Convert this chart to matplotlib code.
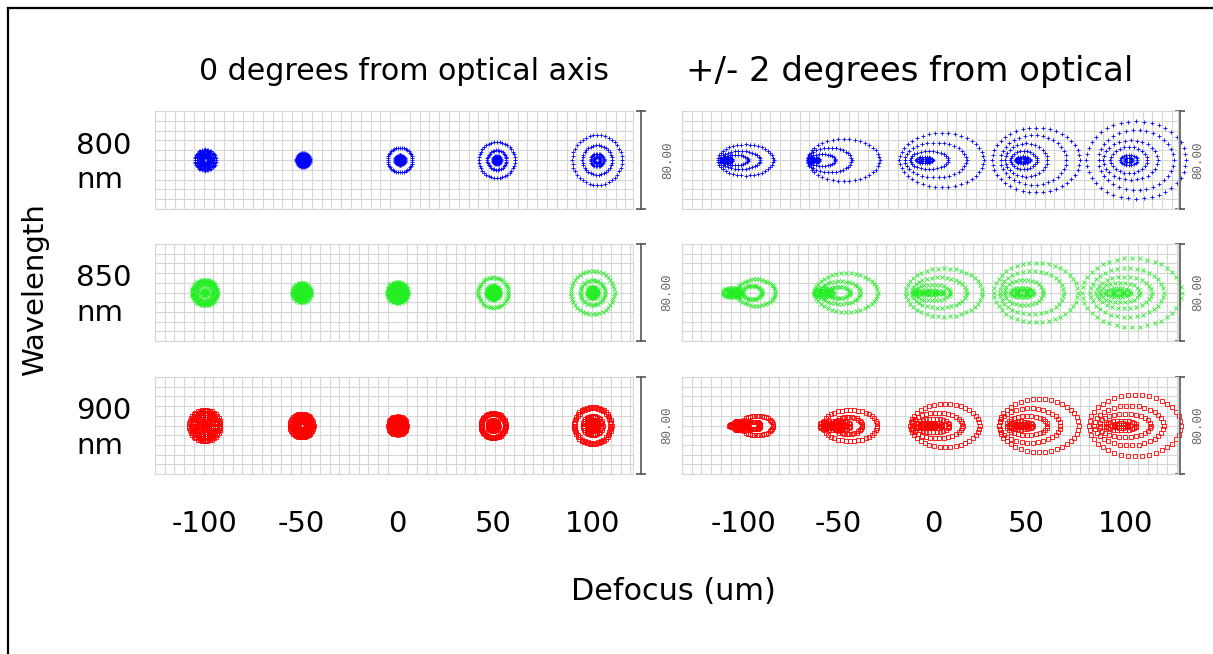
import numpy as np
import matplotlib
matplotlib.use('Agg')
from matplotlib import pyplot as plt
from matplotlib.lines import Line2D

DEFOCUS = [-100, -50, 0, 50, 100]
WAVELENGTHS = ['800\nnm', '850\nnm', '900\nnm']
COLUMN_TITLES = ['0 degrees from optical axis', '+/- 2 degrees from optical']
SCALE_LABEL = '80.00'

# spot centres along each panel (um from the left edge of the grid)
SPOT_X_ON = [41, 121, 200, 279, 361]
LABEL_X_OFF = [51, 129, 207, 284, 366]
SPOT_X_OFF = [52, 132, 212, 291, 376]

# points traced on each ring, outermost ring first
RING_POINTS = [40, 34, 28, 24, 20, 16, 12, 10, 8]

# on-axis spots: ring radii in um, one list per defocus
ON_800 = [
    [8.6, 7.0, 5.4, 3.8, 2.2],
    [5.7, 4.4, 3.0, 1.6],
    [10.2, 4.0, 2.8, 1.6],
    [14.7, 7.8, 3.3, 2.0],
    [20.4, 12.2, 5.3, 2.6],
]
ON_850 = [
    [10.6, 9.4, 8.2, 6.1, 2.4],
    [7.9, 6.4, 4.9, 3.4, 1.9],
    [8.6, 7.2, 5.8, 4.3, 2.8, 1.4],
    [12.5, 5.8, 4.3, 2.8, 1.3],
    [18.0, 10.2, 4.7, 2.5],
]
ON_900 = [
    [13.0, 11.6, 10.2, 8.6, 7.0, 5.4, 3.6, 1.8],
    [9.8, 8.6, 7.4, 6.0, 4.6, 3.4],
    [7.5, 6.3, 5.1, 3.9, 2.7, 1.5],
    [10.4, 9.6, 4.4, 3.4, 2.4, 1.4],
    [15.5, 14.5, 8.2, 7.2, 3.3, 2.3],
]

# 2 degree field spots: (centre offset, semi-axis x, semi-axis y) in um
OFF_800 = [
    [(0, 22.7, 12.7), (-4.5, 16.5, 7.3), (-8.6, 10.5, 4.1), (-15.5, 4.6, 2.4), (-15, 2, 1)],
    [(0, 29.5, 17.1), (-11.4, 18, 10.2), (-18, 11.3, 4.9), (-24, 4, 2), (-24, 2, 1)],
    [(0, 34.5, 22), (-4.9, 25.2, 14.3), (-10.2, 15.5, 7.3), (-14, 6.7, 2.4), (-14, 3, 1)],
    [(-2, 35.7, 26.5), (-4, 26.8, 20.4), (-10, 17.2, 13.5), (-12, 10.9, 7.3), (-13, 6, 3), (-13, 3, 1.5)],
    [(-5.3, 40.8, 31.8), (-5.3, 30.7, 24.5), (-9.8, 22.2, 16.3), (-11.3, 15.1, 10.6), (-11.3, 7, 4), (-11.3, 3, 2)],
]
OFF_850 = [
    [(9, 16, 11), (5.7, 8.2, 5.7), (-10.6, 7.7, 4), (-10, 4, 2.5), (-10, 2, 1)],
    [(3.3, 26, 16.3), (-1.6, 16.8, 9.4), (-2.5, 8.9, 4.9), (-15, 8.2, 3.5), (-15, 4, 1.5)],
    [(4, 31.5, 20), (0, 22.7, 12.7), (-5.7, 15.1, 6.5), (-8, 11.7, 2), (-8, 6, 1)],
    [(0.8, 34.5, 24.5), (-2.5, 26.5, 17.6), (-9, 16, 10.6), (-10.6, 9.7, 4), (-10.6, 5, 2)],
    [(-4.9, 41.2, 28.6), (-9, 30.3, 20.4), (-11.4, 23.1, 13), (-14.7, 16.5, 8.2), (-16.3, 10.5, 4), (-16.3, 5, 2)],
]
OFF_900 = [
    [(9.8, 13, 8.2), (7, 5.5, 3.3), (-5.7, 7.2, 1.6), (-5.7, 3.5, 4), (-5.7, 2, 2)],
    [(6.5, 22.2, 13), (4.9, 11.7, 7.3), (-5.7, 12.6, 4), (-5.7, 8.2, 2.5), (-5.7, 4, 1.2)],
    [(4.9, 28.5, 18), (-1.6, 21, 10.6), (-4.9, 13.4, 5.7), (-6.5, 9.3, 2.4), (-6.5, 4.6, 1.2)],
    [(3.3, 32.8, 22), (-4.1, 25.2, 14.3), (-6.5, 16.8, 8.2), (-11.4, 9.7, 3.3), (-11.4, 5, 1.5)],
    [(-2.4, 37.8, 25.3), (-7.3, 28.5, 16.3), (-10.6, 21, 9.8), (-13.9, 12.6, 4.1), (-13.9, 6, 2)],
]

STYLES = [
    dict(color='#0000ff', marker='+', ms=3.0, mew=0.6),
    dict(color='#22ee22', marker='x', ms=2.4, mew=0.6),
    dict(color='#ff0000', marker='s', ms=2.4, mew=0.6, mfc='none'),
]

W, H = 1213, 654
fig = plt.figure(figsize=(W / 100, H / 100), dpi=100)


def box(x0, y0, x1, y1):
    return [x0 / W, 1 - y1 / H, (x1 - x0) / W, (y1 - y0) / H]


def ring(cx, a, b, n):
    t = np.linspace(0, 2 * np.pi, n, endpoint=False)
    return cx + a * np.cos(t), b * np.sin(t)


rows_px = [(111, 209), (244, 341), (377, 474)]
cols_px = [(155, 633), (682, 1178)]
bar_off = [6.5, 1.6]
txt_off = [22, 15]

on_data = [ON_800, ON_850, ON_900]
off_data = [OFF_800, OFF_850, OFF_900]

for r, (y0, y1) in enumerate(rows_px):
    for c, (x0, x1) in enumerate(cols_px):
        ax = fig.add_axes(box(x0, y0, x1, y1))
        width = 80 * (x1 - x0) / (y1 - y0)
        ax.set_xlim(0, width)
        ax.set_ylim(-40, 40)
        ax.set_xticks(np.arange(0, width, 8), minor=True)
        ax.set_yticks(np.arange(-40, 41, 8), minor=True)
        ax.set_yticks([])
        labels_x = SPOT_X_ON if c == 0 else LABEL_X_OFF
        if r == 2:
            ax.set_xticks(labels_x, labels=[str(d) for d in DEFOCUS])
        else:
            ax.set_xticks(labels_x, labels=[])
        ax.tick_params(which='both', length=0, labelsize=21, pad=26)
        ax.grid(which='minor', color='#d6d6d6', lw=0.8)
        ax.grid(which='major', visible=False)
        for s in ax.spines.values():
            s.set_color('#d6d6d6')
            s.set_linewidth(0.8)

        st = STYLES[r]
        if c == 0:
            for sx, radii in zip(SPOT_X_ON, on_data[r]):
                for k, rad in enumerate(radii):
                    px, py = ring(sx, rad, rad, RING_POINTS[k])
                    ax.plot(px, py, ls='none', clip_on=False, **st)
        else:
            for sx, rings in zip(SPOT_X_OFF, off_data[r]):
                for k, (dx, a, b) in enumerate(rings):
                    px, py = ring(sx + dx, a, b, RING_POINTS[k])
                    ax.plot(px, py, ls='none', clip_on=False, **st)

        # scale bar
        xb = width + bar_off[c]
        ax.plot([xb, xb], [-40, 40], color='#555555', lw=1.2, clip_on=False)
        ax.plot([xb, xb], [-40, 40], ls='none', marker='_', ms=7, mew=1.2,
                color='#555555', clip_on=False)
        ax.text(xb + txt_off[c], 0, SCALE_LABEL, rotation=90, ha='center', va='center',
                fontsize=9, family='Liberation Mono', color='#666666', clip_on=False)

fig.text(404 / W, 1 - 72 / H, COLUMN_TITLES[0], ha='center', va='center', fontsize=21.6)
fig.text(910 / W, 1 - 72 / H, COLUMN_TITLES[1], ha='center', va='center', fontsize=24.5)
for (y0, y1), lab in zip(rows_px, WAVELENGTHS):
    fig.text(76 / W, 1 - ((y0 + y1) / 2 + 3) / H, lab, ha='left', va='center',
             fontsize=21, linespacing=1.3)
fig.text(35 / W, 1 - 290 / H, 'Wavelength', rotation=90, ha='center', va='center', fontsize=21)
fig.text(673 / W, 1 - 592 / H, 'Defocus (um)', ha='center', va='center', fontsize=21.8)

# frame lines on top and left
fig.add_artist(Line2D([8 / W, 1], [1 - 8 / H, 1 - 8 / H], color='black', lw=1.6))
fig.add_artist(Line2D([8 / W, 8 / W], [1 - 8 / H, 0], color='black', lw=1.6))

fig.savefig('out.png', dpi=100)
